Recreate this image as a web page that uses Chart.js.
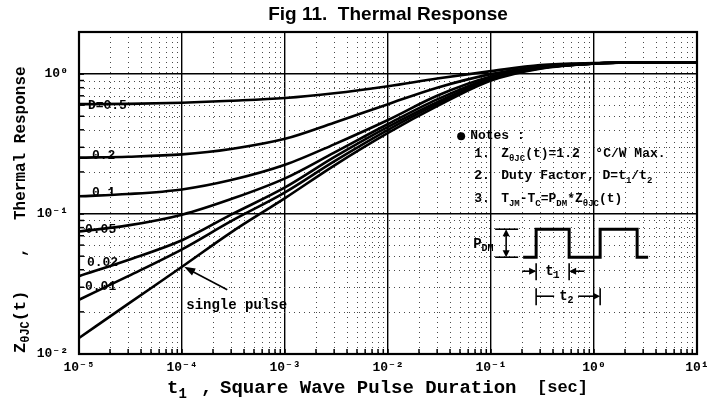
<!DOCTYPE html>
<html><head><meta charset="utf-8">
<script src="https://cdn.jsdelivr.net/npm/chart.js@4/dist/chart.umd.min.js"></script>
<style>html,body{margin:0;padding:0;background:#fff}#wrap{width:707px;height:402px}</style>
</head><body><div id="wrap"><canvas id="c" width="707" height="402"></canvas></div>
<script>
// ---- data ----
const pulseDuration = [1e-5, 3e-5, 1e-4, 3e-4, 1e-3, 3e-3, 1e-2, 3e-2, 1e-1, 3e-1, 1, 3, 10];
const seriesNames = ['D=0.5', '0.2', '0.1', '0.05', '0.02', '0.01', 'single pulse'];
const zD050 = [0.61, 0.613, 0.625, 0.645, 0.675, 0.73, 0.82, 0.93, 1.05, 1.16, 1.2, 1.21, 1.21];
const zD020 = [0.253, 0.257, 0.267, 0.292, 0.345, 0.45, 0.61, 0.80, 1.0, 1.13, 1.19, 1.21, 1.21];
const zD010 = [0.134, 0.139, 0.15, 0.175, 0.225, 0.315, 0.47, 0.70, 0.96, 1.12, 1.19, 1.21, 1.21];
const zD005 = [0.075, 0.083, 0.099, 0.128, 0.18, 0.275, 0.44, 0.66, 0.94, 1.11, 1.19, 1.21, 1.21];
const zD002 = [0.036, 0.047, 0.065, 0.099, 0.155, 0.255, 0.42, 0.63, 0.92, 1.105, 1.19, 1.21, 1.21];
const zD001 = [0.0244, 0.036, 0.056, 0.089, 0.143, 0.238, 0.40, 0.61, 0.91, 1.10, 1.19, 1.21, 1.21];
const zSingle = [0.013, 0.0228, 0.042, 0.074, 0.13, 0.222, 0.38, 0.59, 0.90, 1.095, 1.19, 1.21, 1.21];
const xTickLabels = ['10⁻⁵', '10⁻⁴', '10⁻³', '10⁻²', '10⁻¹', '10⁰', '10¹'];
const yTickLabels = ['10⁻²', '10⁻¹', '10⁰'];
const chartTitle = 'Fig 11.  Thermal Response';

const allSeries = [zD050, zD020, zD010, zD005, zD002, zD001, zSingle];
const MONO = '"Liberation Mono", "Courier New", monospace';

function isDecade(v) { const l = Math.log10(v); return Math.abs(l - Math.round(l)) < 1e-6; }

function rich(ctx, x, y, parts, size) {
  let cx = x;
  for (const [t, mode] of parts) {
    const s = mode ? Math.round(size * 0.72) : size;
    ctx.font = `bold ${s}px ${MONO}`;
    const dy = mode === 1 ? size * 0.32 : (mode === 2 ? -size * 0.35 : 0);
    ctx.fillText(t, cx, y + dy);
    cx += ctx.measureText(t).width;
  }
  return cx;
}
function seg(ctx, x1, y1, x2, y2) { ctx.beginPath(); ctx.moveTo(x1, y1); ctx.lineTo(x2, y2); ctx.stroke(); }
function arrowHead(ctx, tx, ty, fx, fy, len, wid) {
  const a = Math.atan2(ty - fy, tx - fx);
  ctx.beginPath();
  ctx.moveTo(tx, ty);
  ctx.lineTo(tx - len * Math.cos(a) + wid * Math.sin(a), ty - len * Math.sin(a) - wid * Math.cos(a));
  ctx.lineTo(tx - len * Math.cos(a) - wid * Math.sin(a), ty - len * Math.sin(a) + wid * Math.cos(a));
  ctx.closePath(); ctx.fill();
}

const decor = {
  id: 'decor',
  beforeDatasetsDraw(chart) {
    const { ctx, chartArea: a, scales: { x, y } } = chart;
    ctx.save();
    ctx.strokeStyle = '#4a4a4a'; ctx.lineWidth = 1; ctx.setLineDash([1, 4]);
    x.ticks.forEach(t => { if (!isDecade(t.value)) { const p = Math.round(x.getPixelForValue(t.value)) + 0.5; seg(ctx, p, a.top, p, a.bottom); } });
    y.ticks.forEach(t => { if (!isDecade(t.value)) { const p = Math.round(y.getPixelForValue(t.value)) + 0.5; seg(ctx, a.left, p, a.right, p); } });
    ctx.setLineDash([]);
    ctx.strokeStyle = '#000'; ctx.lineWidth = 1.5;
    x.ticks.forEach(t => { const p = x.getPixelForValue(t.value); seg(ctx, p, a.bottom, p, a.bottom - 5); });
    y.ticks.forEach(t => { const p = y.getPixelForValue(t.value); seg(ctx, a.left, p, a.left + 5, p); });
    ctx.restore();
  },
  afterDatasetsDraw(chart) {
    const { ctx, chartArea: a, scales: { x, y } } = chart;
    const P = (xv, yv) => [x.getPixelForValue(xv), y.getPixelForValue(yv)];
    ctx.save();
    // frame
    ctx.strokeStyle = '#000'; ctx.lineWidth = 2.2;
    ctx.strokeRect(a.left, a.top, a.right - a.left, a.bottom - a.top);
    ctx.fillStyle = '#000';
    ctx.textBaseline = 'middle'; ctx.textAlign = 'left';
    // curve labels (data-space anchors)
    const labelAt = [[1.22e-5, 0.59], [1.335e-5, 0.263], [1.335e-5, 0.1426], [1.143e-5, 0.0774], [1.195e-5, 0.0449], [1.143e-5, 0.0302]];
    labelAt.forEach((pos, i) => {
      const [lx, ly] = P(pos[0], pos[1]);
      ctx.font = `bold 13px ${MONO}`;
      ctx.fillText(seriesNames[i], lx, ly);
    });
    // single pulse arrow + text
    const [tx, ty] = P(1.05e-4, 0.042);
    const [fx, fy] = P(2.75e-4, 0.0288);
    ctx.lineWidth = 1.6;
    seg(ctx, fx, fy, tx + 5, ty + 3);
    arrowHead(ctx, tx, ty, fx, fy, 11, 4);
    const [sx, sy] = P(1.1e-4, 0.0221);
    ctx.font = `bold 14px ${MONO}`;
    ctx.fillText(seriesNames[6], sx, sy);
    // notes block
    const [nx, ny] = P(0.0513, 0.36);
    ctx.beginPath(); ctx.arc(nx, ny, 4, 0, Math.PI * 2); ctx.fill();
    ctx.font = `bold 13px ${MONO}`;
    ctx.fillText('Notes :', nx + 9, ny);
    ctx.fillText('1.', nx + 13, ny + 18);
    ctx.fillText('2.', nx + 13, ny + 40);
    ctx.fillText('3.', nx + 13, ny + 63);
    rich(ctx, nx + 40, ny + 18, [['Z', 0], ['θJC', 1], ['(t)=1.2  °C/W Max.', 0]], 13);
    rich(ctx, nx + 40, ny + 40, [['Duty Factor, D=t', 0], ['1', 1], ['/t', 0], ['2', 1]], 13);
    rich(ctx, nx + 40, ny + 63, [['T', 0], ['JM', 1], ['-T', 0], ['C', 1], ['=P', 0], ['DM', 1], ['*Z', 0], ['θJC', 1], ['(t)', 0]], 13);
    // pulse diagram
    const lo = ny + 121, hi = ny + 93;
    ctx.lineWidth = 3; ctx.lineJoin = 'miter';
    ctx.beginPath();
    ctx.moveTo(nx + 62, lo); ctx.lineTo(nx + 75, lo); ctx.lineTo(nx + 75, hi); ctx.lineTo(nx + 108, hi);
    ctx.lineTo(nx + 108, lo); ctx.lineTo(nx + 139, lo); ctx.lineTo(nx + 139, hi); ctx.lineTo(nx + 176, hi);
    ctx.lineTo(nx + 176, lo); ctx.lineTo(nx + 187, lo);
    ctx.stroke();
    ctx.lineWidth = 1.6;
    seg(ctx, nx + 34, hi, nx + 57, hi); seg(ctx, nx + 34, lo, nx + 57, lo);
    seg(ctx, nx + 45, hi + 5, nx + 45, lo - 5);
    arrowHead(ctx, nx + 45, hi, nx + 45, lo, 7, 3.5);
    arrowHead(ctx, nx + 45, lo, nx + 45, hi, 7, 3.5);
    rich(ctx, nx + 12, ny + 108, [['P', 0], ['DM', 1]], 14);
    // t1 dimension
    const r1 = ny + 135;
    seg(ctx, nx + 75, r1 - 8, nx + 75, r1 + 9); seg(ctx, nx + 108, r1 - 8, nx + 108, r1 + 9);
    seg(ctx, nx + 61, r1, nx + 70, r1); arrowHead(ctx, nx + 75, r1, nx + 61, r1, 7, 3.5);
    seg(ctx, nx + 123, r1, nx + 113, r1); arrowHead(ctx, nx + 108, r1, nx + 123, r1, 7, 3.5);
    rich(ctx, nx + 84, r1, [['t', 0], ['1', 1]], 14);
    // t2 dimension
    const r2 = ny + 160;
    seg(ctx, nx + 75, r2 - 8, nx + 75, r2 + 9); seg(ctx, nx + 139, r2 - 8, nx + 139, r2 + 9);
    seg(ctx, nx + 75, r2, nx + 93, r2);
    seg(ctx, nx + 117, r2, nx + 134, r2); arrowHead(ctx, nx + 139, r2, nx + 117, r2, 7, 3.5);
    rich(ctx, nx + 98, r2, [['t', 0], ['2', 1]], 14);
    ctx.restore();
  },
  afterDraw(chart) {
    const { ctx, chartArea: a } = chart;
    ctx.save();
    ctx.fillStyle = '#000';
    ctx.textBaseline = 'middle';
    // title
    ctx.textAlign = 'center';
    ctx.font = 'bold 19px "Liberation Sans", Arial, sans-serif';
    ctx.fillText(chartTitle, (a.left + a.right) / 2, 15);
    ctx.textAlign = 'left';
    // x title
    const xy = 388;
    rich(ctx, 167, xy, [['t', 0], ['1', 1]], 19);
    ctx.font = `bold 19px ${MONO}`;
    ctx.fillText(',', 201, xy);
    ctx.fillText('Square Wave Pulse Duration', 220, xy);
    ctx.font = `bold 17px ${MONO}`;
    ctx.fillText('[sec]', 537, xy);
    // y title (rotated)
    ctx.translate(21, 0);
    ctx.rotate(-Math.PI / 2);
    rich(ctx, -353, 0, [['Z', 0], ['θJC', 1], ['(t)', 0]], 17);
    ctx.font = `bold 16px ${MONO}`;
    ctx.fillText(',', -257, 0);
    ctx.fillText('Thermal Response', -220, 0);
    ctx.restore();
  }
};

const datasets = allSeries.map((arr, i) => ({
  label: seriesNames[i],
  data: pulseDuration.map((t, k) => ({ x: t, y: arr[k] })),
  borderColor: '#000',
  borderWidth: 2.6,
  pointRadius: 0,
  fill: false,
  cubicInterpolationMode: 'monotone'
}));

function logTicks(minExp, maxExp, extra) {
  const out = [];
  for (let e = minExp; e < maxExp; e++) for (let m = 1; m <= 9; m++) out.push({ value: m * Math.pow(10, e) });
  extra.forEach(v => out.push({ value: v }));
  return out;
}

new Chart(document.getElementById('c'), {
  type: 'line',
  data: { datasets },
  options: {
    responsive: false,
    animation: false,
    devicePixelRatio: 1,
    layout: { padding: { left: 0, right: 10, top: 32, bottom: 0 } },
    plugins: { legend: { display: false }, tooltip: { enabled: false }, title: { display: false } },
    scales: {
      x: {
        type: 'logarithmic', min: 1e-5, max: 10,
        afterBuildTicks: s => { s.ticks = logTicks(-5, 1, [10]); },
        afterFit: s => { s.height = 48; s.paddingLeft = 0; s.paddingRight = 0; },
        border: { display: false },
        grid: {
          drawTicks: false,
          color: c => (c.tick && isDecade(c.tick.value)) ? '#000' : 'rgba(0,0,0,0)',
          lineWidth: 1.4
        },
        ticks: {
          autoSkip: false, maxRotation: 0, padding: 6, color: '#000',
          font: { family: MONO, size: 13, weight: 'bold' },
          callback: v => isDecade(v) ? xTickLabels[Math.round(Math.log10(v)) + 5] : ''
        }
      },
      y: {
        type: 'logarithmic', min: 0.01, max: 2,
        afterBuildTicks: s => { s.ticks = logTicks(-2, 0, [1, 2]); },
        afterFit: s => { s.width = 79; },
        border: { display: false },
        grid: {
          drawTicks: false,
          color: c => (c.tick && isDecade(c.tick.value)) ? '#000' : 'rgba(0,0,0,0)',
          lineWidth: 1.4
        },
        ticks: {
          autoSkip: false, padding: 11, color: '#000',
          font: { family: MONO, size: 13, weight: 'bold' },
          callback: v => isDecade(v) ? yTickLabels[Math.round(Math.log10(v)) + 2] : ''
        }
      }
    }
  },
  plugins: [decor]
});
</script></body></html>
